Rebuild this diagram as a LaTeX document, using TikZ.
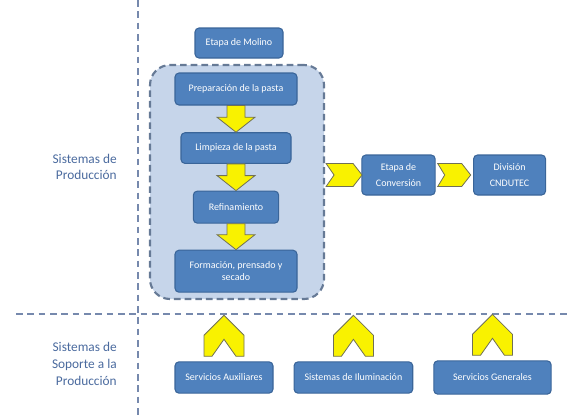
\documentclass[tikz,border=0pt]{standalone}
\usepackage{fontspec}
\setmainfont{Carlito}
\usetikzlibrary{positioning,calc}
\definecolor{boxblue}{HTML}{4F81BD}
\definecolor{boxedge}{HTML}{3A6599}
\definecolor{grupofill}{HTML}{C6D5EA}
\definecolor{grupoedge}{HTML}{667A96}
\definecolor{rayas}{HTML}{7689AD}
\definecolor{rotulo}{HTML}{4A6A9E}
\definecolor{amarillo}{HTML}{F9F200}
\definecolor{amarilloedge}{HTML}{707056}
\newcommand{\etapafont}{\fontsize{7.5}{9.5}\selectfont}
\tikzset{
  etapa/.style={draw=boxedge, fill=boxblue, rounded corners=3pt, line width=0.8pt, text=white,
                align=center, font=\etapafont, inner sep=2pt},
  grupo/.style={draw=grupoedge, fill=grupofill, rounded corners=15pt, line width=1.6pt,
                dash pattern=on 5pt off 3pt},
  sector/.style={text=rotulo, align=right, anchor=east, inner sep=0pt, font=\fontsize{10}{11.5}\selectfont},
  divisor/.style={draw=rayas, line width=1.7pt, dash pattern=on 5pt off 3.5pt},
  flecha/.style={draw=amarilloedge, fill=amarillo, line width=0.6pt, line join=miter},
}

\begin{document}
\begin{tikzpicture}[x=0.75pt, y=-0.75pt, node distance=20pt]
  \useasboundingbox (0,0) rectangle (571,419);
  % separadores
  \draw[divisor] (138,0) -- (138,419);
  \draw[divisor] (16,314) -- (571,314);

  \node[sector] (produccion) at (117,167) {Sistemas de\\Producción};
  \node[sector, font=\fontsize{10}{12.75}\selectfont] (soporte) at (117,364) {Sistemas de\\Soporte a la\\Producción};

  % sistemas de produccion
  \node[grupo, minimum width=130.5pt, minimum height=175.5pt] (etapas) at (237,182) {};
  \node[etapa, minimum width=66pt, minimum height=22.5pt] (molino) at (239,43) {Etapa de Molino};
  \node[etapa, minimum width=91.5pt, minimum height=24pt] (prep) at (236,89) {Preparación de la pasta};
  \node[etapa, minimum width=82.5pt, minimum height=23pt, below=20pt of prep] (limp) {Limpieza de la pasta};
  \node[etapa, minimum width=64pt, minimum height=24pt, below=20pt of limp] (refin) {Refinamiento};
  \node[etapa, minimum width=91.5pt, minimum height=31.5pt, below=19.5pt of refin] (form) {Formación, prensado y\\secado};
  \node[etapa, minimum width=55pt, minimum height=30pt] (conv) at (398.5,175) {Etapa de\\[2pt]Conversión};
  \node[etapa, minimum width=54pt, minimum height=30pt, right=28pt of conv] (divi) {División\\[2pt]CNDUTEC};

  \draw[flecha] ($(prep.south)+(-9,0)$) -- ($(limp.north)+(-9,-15)$) -- ++(-10,0) -- (limp.north)
    -- ++(19,-15) -- ++(-10,0) -- ($(prep.south)+(9,0)$) -- cycle;
  \draw[flecha] ($(limp.south)+(-9,0)$) -- ($(refin.north)+(-9,-15)$) -- ++(-10,0) -- (refin.north)
    -- ++(19,-15) -- ++(-10,0) -- ($(limp.south)+(9,0)$) -- cycle;
  \draw[flecha] ($(refin.south)+(-9,0)$) -- ($(form.north)+(-9,-15)$) -- ++(-10,0) -- (form.north)
    -- ++(19,-15) -- ++(-10,0) -- ($(refin.south)+(9,0)$) -- cycle;
  \draw[flecha] ($(etapas.east |- conv.west)+(1,-11.5)$) -- ++(27,0) -- ++(9,11.5) -- ++(-9,11.5)
    -- ++(-27,0) -- ++(8,-11.5) -- cycle;
  \draw[flecha] ($(conv.east)+(2,-11.5)$) -- ++(24,0) -- ++(9,11.5) -- ++(-9,11.5)
    -- ++(-24,0) -- ++(7,-11.5) -- cycle;

  % soporte
  \node[etapa, minimum width=73.5pt, minimum height=23.5pt] (aux) at (224,377.5) {Servicios Auxiliares};
  \node[etapa, minimum width=89pt, minimum height=23.5pt, right=15pt of aux] (ilum) {Sistemas de Iluminación};
  \node[etapa, minimum width=88pt, minimum height=25pt, right=15pt of ilum] (gen) {Servicios Generales};

  \draw[flecha] ($(aux.north)+(-20,-5)$) -- ++(0,-21) -- ++(20,-20) -- ++(20,20) -- ++(0,21)
    -- ++(-8,0) -- ++(-12,-17) -- ++(-12,17) -- cycle;
  \draw[flecha] ($(ilum.north)+(-20,-5)$) -- ++(0,-21) -- ++(20,-20) -- ++(20,20) -- ++(0,21)
    -- ++(-8,0) -- ++(-12,-17) -- ++(-12,17) -- cycle;
  \draw[flecha] ($(gen.north)+(-20,-5)$) -- ++(0,-21) -- ++(20,-20) -- ++(20,20) -- ++(0,21)
    -- ++(-8,0) -- ++(-12,-17) -- ++(-12,17) -- cycle;
\end{tikzpicture}
\end{document}
